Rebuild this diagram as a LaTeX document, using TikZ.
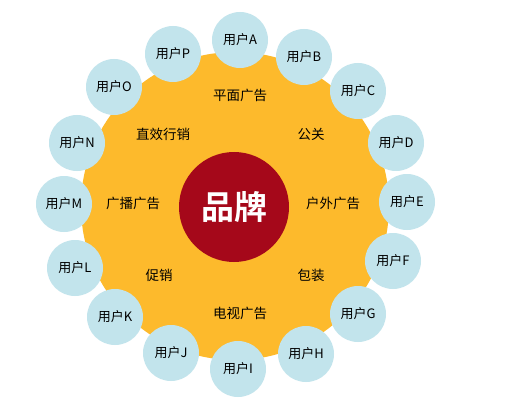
\documentclass[tikz,border=0pt]{standalone}
\usepackage{fontspec}
\setmainfont{Noto Sans CJK SC}[BoldFont={Noto Sans CJK SC Bold}]
\definecolor{yel}{HTML}{FDBA2C}
\definecolor{blu}{HTML}{C2E4EC}
\definecolor{brand}{HTML}{A5081A}
\begin{document}
\begin{tikzpicture}[x=1pt,y=-1pt,
  user/.style={circle,fill=blu,minimum size=56pt,inner sep=0pt,font=\fontsize{13}{13}\selectfont},
  chan/.style={inner sep=0pt,font=\fontsize{13.5}{14}\selectfont},
  core/.style={circle,fill=brand,minimum size=110pt,inner sep=0pt,text=white,font=\fontsize{33}{33}\selectfont\bfseries}]
\useasboundingbox (0,0) rectangle (514,417);
\fill[white] (0,0) rectangle (514,417);
\node[circle,fill=yel,minimum size=308pt,inner sep=0pt] (disk) at (235,206) {};
\node[user] (A) at (240,40) {用户A};
\node[user] (B) at (304,57) {用户B};
\node[user] (C) at (358,91) {用户C};
\node[user] (D) at (396,143) {用户D};
\node[user] (E) at (407,202) {用户E};
\node[user] (F) at (393,261) {用户F};
\node[user] (G) at (358,314) {用户G};
\node[user] (H) at (306,354) {用户H};
\node[user] (I) at (238,369) {用户I};
\node[user] (J) at (171,353) {用户J};
\node[user] (K) at (115,317) {用户K};
\node[user] (L) at (75,268) {用户L};
\node[user] (M) at (64,204) {用户M};
\node[user] (N) at (77,143) {用户N};
\node[user] (O) at (114,87) {用户O};
\node[user] (P) at (173,54) {用户P};
\node[core] (brandc) at (234,207) {品牌};
\node[chan] (c1) at (240,95) {平面广告};
\node[chan] (c2) at (311,134) {公关};
\node[chan] (c3) at (333,203) {户外广告};
\node[chan] (c4) at (311,275) {包装};
\node[chan] (c5) at (240,313) {电视广告};
\node[chan] (c6) at (159,275) {促销};
\node[chan] (c7) at (133,203) {广播广告};
\node[chan] (c8) at (163,134) {直效行销};
\end{tikzpicture}
\end{document}
